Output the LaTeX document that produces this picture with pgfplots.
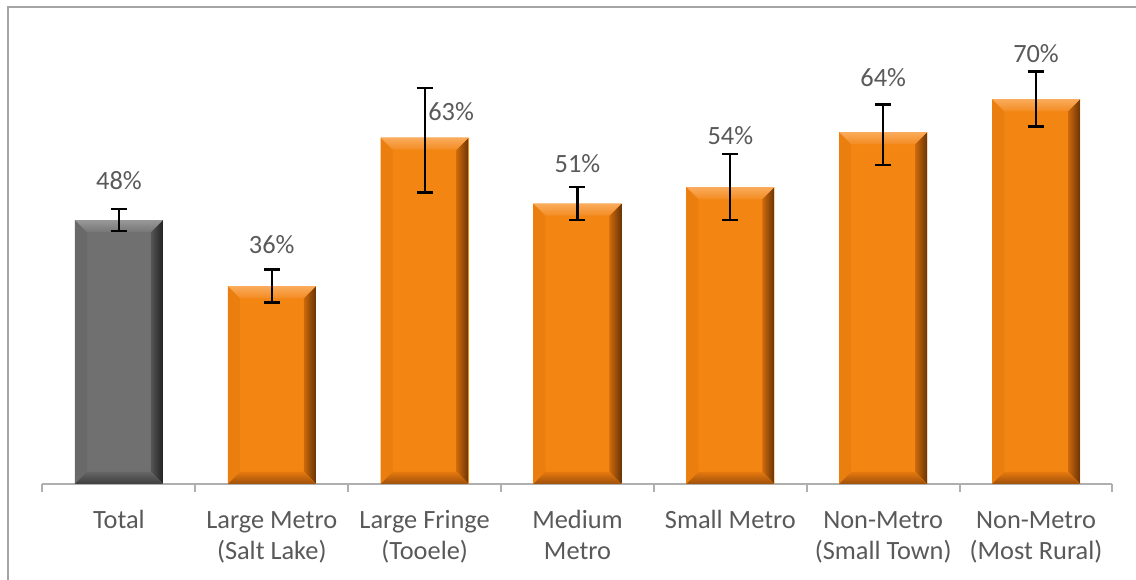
\documentclass[border=0pt]{standalone}
\usepackage{pgfplots}
\pgfplotsset{compat=1.18}
\usepackage{pgfplotstable}
\usepackage{fontspec}
\setmainfont{Carlito}
\definecolor{lab}{RGB}{89,89,89}
\definecolor{axisgray}{RGB}{175,175,175}
\definecolor{framegray}{RGB}{165,165,165}
% orange bevel colours
\definecolor{oF}{RGB}{243,134,18}
\definecolor{oLf}{RGB}{234,126,14}
\definecolor{oR1}{RGB}{205,105,12}
\definecolor{oR2}{RGB}{105,52,5}
\definecolor{oT1}{RGB}{250,172,92}
\definecolor{oT2}{RGB}{243,140,35}
\definecolor{oB1}{RGB}{228,120,15}
\definecolor{oB2}{RGB}{158,80,10}
% grey bevel colours
\definecolor{gF}{RGB}{112,112,112}
\definecolor{gLf}{RGB}{105,105,105}
\definecolor{gR1}{RGB}{85,85,85}
\definecolor{gR2}{RGB}{35,35,35}
\definecolor{gT1}{RGB}{152,152,152}
\definecolor{gT2}{RGB}{118,118,118}
\definecolor{gB1}{RGB}{100,100,100}
\definecolor{gB2}{RGB}{62,62,62}
\def\bv{0.12cm}
\newif\ifinbevel
\inbevelfalse
\newcommand\bevelpic[1]{%
  \ifinbevel\else
  \global\inbeveltrue
  \path (path picture bounding box.north west) coordinate (bnw)
        (path picture bounding box.north east) coordinate (bne)
        (path picture bounding box.south west) coordinate (bsw)
        (path picture bounding box.south east) coordinate (bse);
  \fill[#1Lf] (bnw) -- (bsw) -- ([shift={(\bv,\bv)}]bsw) -- ([shift={(\bv,-\bv)}]bnw) -- cycle;
  \shade[left color=#1R1, right color=#1R2] (bne) -- (bse) -- ([shift={(-\bv,\bv)}]bse) -- ([shift={(-\bv,-\bv)}]bne) -- cycle;
  \shade[top color=#1T1, bottom color=#1T2] (bnw) -- (bne) -- ([shift={(-\bv,-\bv)}]bne) -- ([shift={(\bv,-\bv)}]bnw) -- cycle;
  \shade[top color=#1B1, bottom color=#1B2] (bsw) -- (bse) -- ([shift={(-\bv,\bv)}]bse) -- ([shift={(\bv,\bv)}]bsw) -- cycle;
  \global\inbevelfalse
  \fi
}
\newcommand\lblfont{\fontsize{7.5}{8.8}\selectfont}
\pgfplotsset{
  gbar/.style={ybar, bar width=0.88cm, bar shift=0pt, draw=none, fill=gF, path picture={\bevelpic{g}}},
  obar/.style={ybar, bar width=0.88cm, bar shift=0pt, draw=none, fill=oF, path picture={\bevelpic{o}}},
  lbl/.style 2 args={draw=none, mark=none, forget plot, point meta=y,
    nodes near coords={\pgfmathprintnumber{\pgfplotspointmeta}\%},
    nodes near coords style={font=\lblfont, text=lab, anchor=base, inner sep=0pt, xshift=#1, yshift=#2}},
}

\pgfplotstableread{
x y ep em
0 48 2 2
1 36 3 3
2 63 9 10
3 51 3 3
4 54 6 6
5 64 5 6
6 70 5 5
}\errdata

\begin{document}
\begin{tikzpicture}
\useasboundingbox (0,0) rectangle (11.36cm,5.80cm);
\draw[framegray, line width=0.02cm] (0.08cm,-1cm) -- (0.08cm,5.73cm) -- (12cm,5.73cm);
\begin{axis}[
  at={(0.425cm,0.96cm)}, anchor=south west,
  scale only axis, width=10.70cm, height=4.40cm,
  xmin=-0.5, xmax=6.5, ymin=0, ymax=80,
  axis y line=none, axis x line*=bottom,
  x axis line style={axisgray, line width=0.02cm, -},
  clip=false,
  /pgf/number format/assume math mode=true,
  tick align=outside,
  major tick length=0pt,
  xtick={0,...,6},
  xticklabels={{\strut Total},{\strut Large Metro\\(Salt Lake)},{\strut Large Fringe\\(Tooele)},{\strut Medium\\Metro},{\strut Small Metro},{\strut Non-Metro\\(Small Town)},{\strut Non-Metro\\(Most Rural)}},
  xticklabel style={font=\lblfont, text=lab, align=center, anchor=north, inner sep=0pt, yshift=-0.223cm},
  major x tick style={draw=none},
  extra x ticks={-0.5,0.5,1.5,2.5,3.5,4.5,5.5,6.5},
  extra x tick labels={},
  extra x tick style={major tick length=0.08cm, major x tick style={draw=axisgray, line width=0.02cm}},
]
\addplot[gbar] coordinates {(0,48)};
\addplot[obar] coordinates {(1,36)};
\addplot[obar] coordinates {(2,63)};
\addplot[obar] coordinates {(3,51)};
\addplot[obar] coordinates {(4,54)};
\addplot[obar] coordinates {(5,64)};
\addplot[obar] coordinates {(6,70)};
\addplot[draw=none, mark=none, forget plot,
  error bars/.cd, y dir=both, y explicit,
  error bar style={draw=black, line width=0.6pt},
  error mark=|,
  error mark options={draw=black, line width=0.6pt, mark size=0.08cm}]
  table[x=x, y=y, y error plus=ep, y error minus=em] {\errdata};
\addplot[lbl={0cm}{0.31cm}] coordinates {(0,48)};
\addplot[lbl={0cm}{0.33cm}] coordinates {(1,36)};
\addplot[lbl={0.265cm}{0.17cm}] coordinates {(2,63)};
\addplot[lbl={0cm}{0.31cm}] coordinates {(3,51)};
\addplot[lbl={0cm}{0.43cm}] coordinates {(4,54)};
\addplot[lbl={0cm}{0.46cm}] coordinates {(5,64)};
\addplot[lbl={0cm}{0.37cm}] coordinates {(6,70)};
\end{axis}
\end{tikzpicture}
\end{document}
